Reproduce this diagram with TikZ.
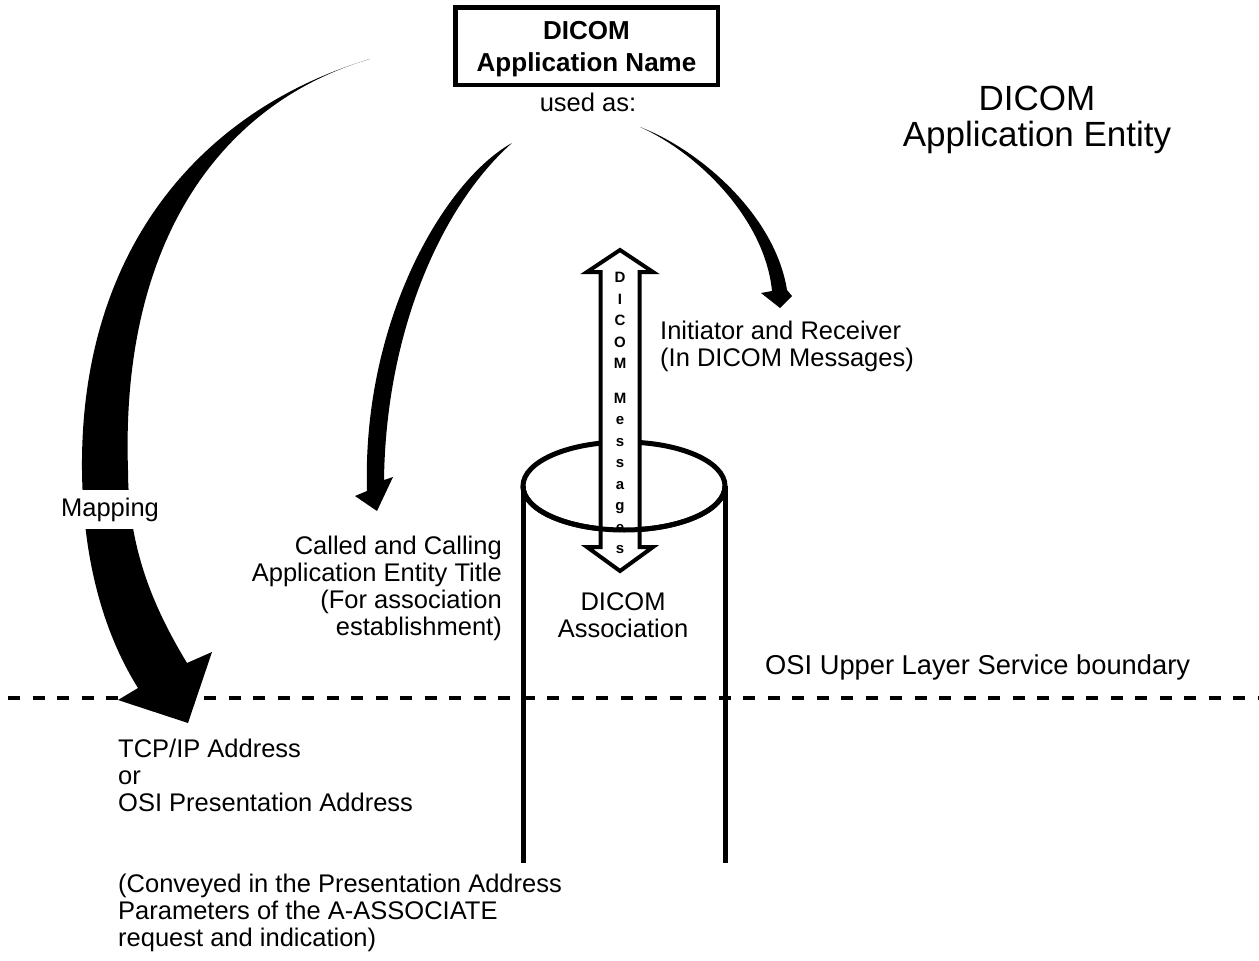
\documentclass[tikz,border=0pt]{standalone}
\usepackage{fontspec}
\setmainfont{Liberation Sans}
\tikzset{
  lbl/.style={font=\fontsize{25.5}{27}\selectfont, inner sep=0pt},
  titlelbl/.style={font=\fontsize{35}{36}\selectfont, inner sep=0pt, align=center},
  namebox/.style={draw, line width=4.5pt, inner sep=0pt, minimum width=262.5pt, minimum height=77.5pt,
    align=center, font=\fontsize{26}{32}\selectfont\bfseries},
  boundary/.style={line width=4pt, dash pattern=on 12pt off 12.5pt},
  cyl/.style={line width=5pt},
  msgarrow/.style={draw, fill=white, line width=4pt, line join=miter},
  msgtext/.style={font=\fontsize{15}{21.5}\selectfont\bfseries, inner sep=0pt, align=center},
  swoosh/.style={fill=black},
  maplbl/.style={lbl, fill=white, inner xsep=4pt, inner ysep=8pt}
}
\begin{document}
\begin{tikzpicture}[x=1pt, y=-1pt]
\useasboundingbox (0,0) rectangle (1259,961);

% OSI boundary
\coordinate (bl) at (8,698);
\coordinate (br) at (1259,698);
\draw[boundary] (bl) -- (br);

% cylinder (DICOM association)
\coordinate (cc) at (624,486);
\coordinate (cl) at (523,486);
\coordinate (cr) at (725,486);
\coordinate (cbl) at (523,863);
\coordinate (cbr) at (725,863);
\draw[cyl] (cc) ellipse [x radius=101, y radius=44];
\draw[cyl] (cl) -- (cbl);
\draw[cyl] (cr) -- (cbr);

% double arrow DICOM Messages
\draw[msgarrow] (620,250) -- (653,272) -- (639.5,272) -- (639.5,547) -- (653,547) -- (620,571)
  -- (587,547) -- (600.5,547) -- (600.5,272) -- (587,272) -- cycle;
\node[msgtext, anchor=north] (msg) at (620,272) {D\\I\\C\\O\\M\\[13pt]M\\e\\s\\s\\a\\g\\e\\s};
% front arc of the cylinder top
\draw[cyl] (cr) arc[start angle=0, end angle=180, x radius=101, y radius=44];

% name box
\node[namebox] (name) at (586.5,46) {\rule{0pt}{24pt}DICOM\\Application Name};
\node[lbl, anchor=base] (usedas) at (588,111) {used as:};

% title
\node[titlelbl, anchor=north] (ae) at (1037,86) {DICOM\\Application Entity};

% swoosh arrows
\fill[swoosh] (370,59) .. controls (200,110) and (80,250) .. (82,470)
  .. controls (83,570) and (108,640) .. (138,688) -- (118,700) -- (188,723) -- (212,652) -- (187,663)
  .. controls (155,610) and (128,550) .. (128,470)
  .. controls (120,230) and (230,100) .. (370,59) -- cycle;
\fill[swoosh] (512,143) .. controls (445,180) and (362,320) .. (367,491) -- (355,496) -- (377,511)
  -- (393,477) -- (384,480) .. controls (386,330) and (442,205) .. (512,143) -- cycle;
\fill[swoosh] (640,127) .. controls (700,150) and (775,215) .. (787,290) -- (792,296) -- (780,308)
  -- (761,293) -- (772,291) .. controls (765,219) and (698,153) .. (640,127) -- cycle;

\node[maplbl] (map) at (110,509.5) {Mapping};

% labels
\node[lbl, anchor=north west, align=left] (init) at (660,321) {Initiator and Receiver\\(In DICOM Messages)};
\node[lbl, anchor=north east, align=right] (aet) at (502,536) {Called and Calling\\Application Entity Title\\(For association\\establishment)};
\node[lbl, anchor=north, align=center] (assoc) at (623,592) {DICOM\\Association};
\node[lbl, font=\fontsize{27.3}{27}\selectfont, anchor=north west] (osi) at (765,655) {OSI Upper Layer Service boundary};
\node[lbl, anchor=north west, align=left] (addr) at (118,739) {TCP/IP Address\\or\\OSI Presentation Address};
\node[lbl, anchor=north west, align=left] (conv) at (118,874) {(Conveyed in the Presentation Address\\Parameters of the A-ASSOCIATE\\request and indication)};
\end{tikzpicture}
\end{document}
